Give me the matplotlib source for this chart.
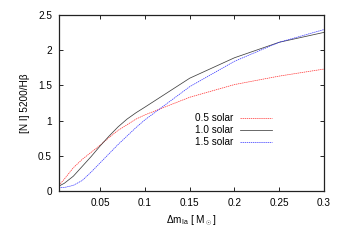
import matplotlib
matplotlib.use("Agg")
import matplotlib.pyplot as plt
from matplotlib.ticker import FormatStrFormatter

plt.rcParams['font.family'] = ['Liberation Sans', 'DejaVu Sans']
plt.rcParams['mathtext.fontset'] = 'custom'
plt.rcParams['mathtext.rm'] = 'Liberation Sans'
plt.rcParams['mathtext.it'] = 'Liberation Sans'

# dm_Ia [M_sun]
dm = [0.004, 0.01, 0.02, 0.03, 0.04, 0.05, 0.06, 0.07, 0.08, 0.09, 0.1, 0.15, 0.2, 0.25, 0.3]
# [N I] 5200 / Hbeta
half_solar = [0.08, 0.17, 0.33, 0.45, 0.55, 0.65, 0.76, 0.86, 0.94, 1.02, 1.08, 1.33, 1.51, 1.63, 1.73]
one_solar = [0.07, 0.11, 0.21, 0.35, 0.49, 0.64, 0.78, 0.91, 1.02, 1.11, 1.19, 1.60, 1.89, 2.11, 2.25]
one_half_solar = [0.05, 0.05, 0.08, 0.15, 0.27, 0.40, 0.53, 0.66, 0.78, 0.90, 1.01, 1.48, 1.84, 2.11, 2.29]

fig = plt.figure(figsize=(3.46, 2.42), dpi=100)
ax = fig.add_axes([0.1705, 0.2107, 0.7659, 0.7283])

ax.plot(dm, half_solar, color='#ff3030', lw=0.5, dashes=(2, 1), label='0.5 solar')
ax.plot(dm, one_solar, color='#404040', lw=0.55, label='1.0 solar')
ax.plot(dm, one_half_solar, color='#3030ff', lw=0.5, dashes=(2, 1), label='1.5 solar')

ax.set_xlim(0.004, 0.3)
ax.set_ylim(0, 2.5)
ax.set_xticks([0.05, 0.1, 0.15, 0.2, 0.25, 0.3])
ax.set_yticks([0, 0.5, 1, 1.5, 2, 2.5])
ax.xaxis.set_major_formatter(FormatStrFormatter('%g'))
ax.yaxis.set_major_formatter(FormatStrFormatter('%g'))
ax.tick_params(direction='in', top=True, right=True, length=3, width=0.6,
               labelsize=7.2, pad=5)
for s in ax.spines.values():
    s.set_linewidth(0.9)
    s.set_color('#222222')

ax.set_xlabel(r'$\Delta$m$_{\rm Ia}$ [ M$_\odot$]', fontsize=7.2, labelpad=4)
ax.set_ylabel('[N I] 5200/Hβ', fontsize=7.2, labelpad=6)

ax.legend(loc='upper right', bbox_to_anchor=(0.804, 0.44), frameon=False,
          markerfirst=False, fontsize=7.2, handlelength=3.2, handletextpad=0.7,
          labelspacing=0.2, borderpad=0, borderaxespad=0)

fig.savefig('out.png', dpi=100)
